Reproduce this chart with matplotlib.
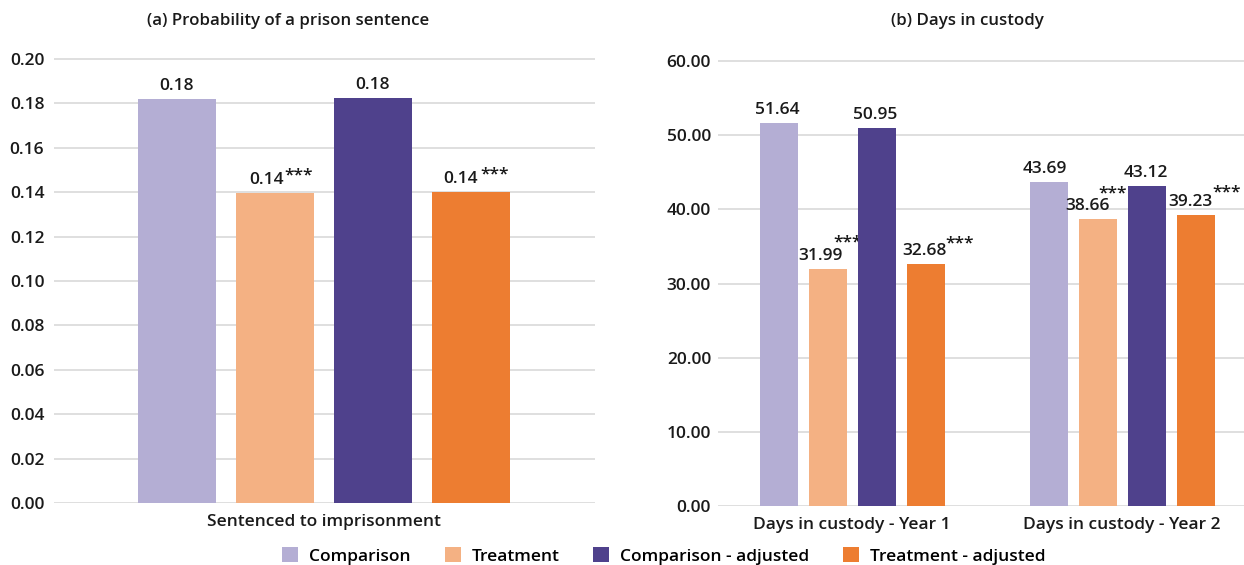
import matplotlib.pyplot as plt
import numpy as np
from matplotlib.patches import Patch

plt.rcParams['font.family'] = ['Open Sans', 'DejaVu Sans']
plt.rcParams['font.weight'] = 'semibold'

# series shown in both panels
series = ['Comparison', 'Treatment', 'Comparison - adjusted', 'Treatment - adjusted']
colors = ['#B4AED4', '#F4B183', '#4F418C', '#ED7D31']
significant = [False, True, False, True]

# (a) probability of a prison sentence
prison_cats = ['Sentenced to imprisonment']
prison_vals = [[0.182], [0.1395], [0.1825], [0.140]]

# (b) days in custody
custody_cats = ['Days in custody - Year 1', 'Days in custody - Year 2']
custody_vals = [[51.64, 43.69], [31.99, 38.66], [50.95, 43.12], [32.68, 39.23]]

# label nudges in pixels: value label dx, star dx, star dy (above bar top)
prison_label_dx = [[0], [-9], [0], [-10]]
prison_star_dx = [[0], [24], [0], [24]]
prison_star_dy = [[0], [22], [0], [22]]
custody_label_dx = [[-1, -4], [-7, -10], [-1, -1], [-1, -5]]
custody_star_dx = [[0, 0], [20, 15], [0, 0], [34, 31]]
custody_star_dy = [[0, 0], [30, 30], [0, 0], [24, 27]]

W, H = 1244, 565
fs = 12.5
fig = plt.figure(figsize=(W / 100, H / 100), dpi=100)


def draw_panel(ax, cats, vals, width, step, fmt, label_dx, star_dx, star_dy):
    x = np.arange(len(cats))
    for i, name in enumerate(series):
        pos = x + (i - 1.5) * step
        bars = ax.bar(pos, vals[i], width, color=colors[i], label=name, zorder=3)
        for j, b in enumerate(bars):
            cx = b.get_x() + b.get_width() / 2
            top = b.get_height()
            ax.annotate(fmt.format(top), (cx, top), xytext=(label_dx[i][j], 9),
                        textcoords='offset pixels', ha='center', va='baseline',
                        fontsize=fs, color='#1a1a1a')
            if significant[i]:
                ax.annotate('***', (cx, top), xytext=(star_dx[i][j], star_dy[i][j] - 8),
                            textcoords='offset pixels', ha='center', va='baseline',
                            fontsize=fs, color='#1a1a1a')
    ax.set_xticks(x)
    ax.set_xticklabels(cats, fontsize=fs)
    ax.tick_params(length=0, labelsize=fs, colors='#1a1a1a')
    ax.tick_params(axis='x', pad=8)
    for s in ax.spines.values():
        s.set_visible(False)
    ax.grid(axis='y', color='#D9D9D9', linewidth=1.2, zorder=0)


# left panel: 0.20 at y=58, 0.00 at y=502
ax1 = fig.add_axes([54 / W, 1 - 503 / H, 541 / W, 447 / H])
draw_panel(ax1, prison_cats, prison_vals, 78 / 541, 98 / 541, '{:.2f}',
           prison_label_dx, prison_star_dx, prison_star_dy)
ax1.set_xlim(-270 / 541, 271 / 541)
ax1.set_ylim(0, 0.2 * 447 / 444)
ax1.set_yticks(np.arange(0, 0.201, 0.02))
ax1.set_yticklabels([f'{v:.2f}' for v in np.arange(0, 0.201, 0.02)])
ax1.tick_params(axis='y', pad=7)

# right panel: 60 at y=60, 0 at y=505
ax2 = fig.add_axes([718 / W, 1 - 506 / H, 526 / W, 448 / H])
draw_panel(ax2, custody_cats, custody_vals, 38 / 270, 49 / 270, '{:.2f}',
           custody_label_dx, custody_star_dx, custody_star_dy)
ax2.set_xlim(-134 / 270, 1 + 122 / 270)
ax2.set_ylim(0, 60 * 448 / 445)
ax2.set_yticks(np.arange(0, 61, 10))
ax2.set_yticklabels([f'{v:.2f}' for v in np.arange(0, 61, 10)])
ax2.tick_params(axis='y', pad=5)

fig.text(288 / W, 1 - 21 / H, '(a) Probability of a prison sentence',
         ha='center', va='center', fontsize=12.2, color='#1a1a1a')
fig.text(967 / W, 1 - 21 / H, '(b) Days in custody',
         ha='center', va='center', fontsize=12.2, color='#1a1a1a')

handles = [Patch(facecolor=c, label=s) for c, s in zip(colors, series)]
fig.legend(handles=handles, loc='center', bbox_to_anchor=(664 / W, 1 - 556 / H),
           ncol=4, frameon=False, fontsize=fs, handlelength=0.92, handleheight=0.92,
           handletextpad=0.63, columnspacing=1.95, borderpad=0)

fig.savefig('out.png', dpi=100)
